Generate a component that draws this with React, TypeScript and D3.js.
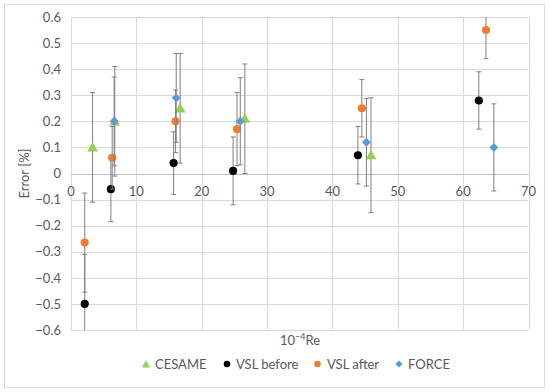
import { useMemo } from 'react';
import * as d3 from 'd3';

const X_TICKS = [0, 10, 20, 30, 40, 50, 60, 70];
const Y_TICKS = [-0.6, -0.5, -0.4, -0.3, -0.2, -0.1, 0, 0.1, 0.2, 0.3, 0.4, 0.5, 0.6];

const CESAME_X = [3.3, 6.7, 16.7, 26.6, 45.9];
const CESAME_Y = [0.1, 0.2, 0.25, 0.21, 0.07];
const CESAME_ERR = [0.21, 0.21, 0.21, 0.21, 0.22];

const VSL_BEFORE_X = [2.1, 6.1, 15.7, 24.8, 43.9, 62.4];
const VSL_BEFORE_Y = [-0.5, -0.06, 0.04, 0.01, 0.07, 0.28];
const VSL_BEFORE_ERR = [0.19, 0.125, 0.12, 0.13, 0.11, 0.11];

const VSL_AFTER_X = [2.1, 6.3, 16.0, 25.4, 44.5, 63.5];
const VSL_AFTER_Y = [-0.265, 0.06, 0.2, 0.17, 0.25, 0.55];
const VSL_AFTER_ERR = [0.19, 0.12, 0.12, 0.14, 0.11, 0.11];

const FORCE_X = [6.6, 16.1, 25.9, 45.2, 64.7];
const FORCE_Y = [0.2, 0.29, 0.2, 0.12, 0.1];
const FORCE_ERR = [0.17, 0.17, 0.167, 0.168, 0.167];

const SERIES = [
  { name: 'CESAME', color: '#92d050', shape: 'triangle', xs: CESAME_X, ys: CESAME_Y, err: CESAME_ERR },
  { name: 'VSL before', color: '#000000', shape: 'circle', xs: VSL_BEFORE_X, ys: VSL_BEFORE_Y, err: VSL_BEFORE_ERR },
  { name: 'VSL after', color: '#ed7d31', shape: 'circle', xs: VSL_AFTER_X, ys: VSL_AFTER_Y, err: VSL_AFTER_ERR },
  { name: 'FORCE', color: '#5b9bd5', shape: 'diamond', xs: FORCE_X, ys: FORCE_Y, err: FORCE_ERR },
];

const FONT = 'Lato, "Open Sans", sans-serif';
const TEXT = '#595959';
const GRID = '#d9d9d9';
const ERRBAR = '#7f7f7f';

// square rotated 45deg, like the spreadsheet's diamond marker
const squareDiamond = {
  draw(context, size) {
    const r = Math.sqrt(size / 2);
    context.moveTo(0, -r);
    context.lineTo(r, 0);
    context.lineTo(0, r);
    context.lineTo(-r, 0);
    context.closePath();
  },
};

const symbolFor = (shape: string, size: number) => {
  const type =
    shape === 'triangle' ? d3.symbolTriangle : shape === 'diamond' ? squareDiamond : d3.symbolCircle;
  return d3.symbol().type(type).size(size)() as string;
};

function Marker({ shape, color, x, y, big = true }) {
  const size = shape === 'circle' ? (big ? 52 : 34) : shape === 'triangle' ? (big ? 50 : 30) : big ? 40 : 26;
  const dy = shape === 'triangle' ? 1 : 0;
  return (
    <path d={symbolFor(shape, size)} transform={`translate(${x},${y + dy})`} fill={color} />
  );
}

export default function App() {
  const x = useMemo(() => d3.scaleLinear().domain([0, 70]).range([71, 528.5]), []);
  const y = useMemo(() => d3.scaleLinear().domain([-0.6, 0.6]).range([330, 17]), []);

  const clampY = (v: number) => Math.max(-0.6, Math.min(0.6, v));

  return (
    <svg
      width={550}
      height={392}
      style={{ position: 'absolute', left: 0, top: 0, background: '#fff' }}
      fontFamily={FONT}
    >
      <rect x={4.5} y={4.5} width={540} height={383} fill="#fff" stroke={GRID} strokeWidth={1} />

      {/* grid */}
      {Y_TICKS.map((t) => (
        <line key={`gy${t}`} x1={x(0)} x2={x(70)} y1={Math.round(y(t)) + 0.5} y2={Math.round(y(t)) + 0.5} stroke={GRID} />
      ))}
      {X_TICKS.map((t) => (
        <line key={`gx${t}`} y1={y(0.6)} y2={y(-0.6)} x1={Math.round(x(t)) + 0.5} x2={Math.round(x(t)) + 0.5} stroke={GRID} />
      ))}
      <line x1={x(0)} x2={x(70)} y1={Math.round(y(0)) + 0.5} y2={Math.round(y(0)) + 0.5} stroke="#bfbfbf" />

      {/* y tick labels */}
      {Y_TICKS.map((t) => (
        <text key={`ly${t}`} x={61} y={y(t)} dy="0.36em" textAnchor="end" fontSize={13} fill={TEXT}>
          {t === 0 ? '0' : t < 0 ? `\u2212${d3.format('.1f')(-t)}` : d3.format('.1f')(t)}
        </text>
      ))}
      {/* x tick labels */}
      {X_TICKS.map((t) => (
        <text key={`lx${t}`} x={x(t)} y={y(0) + 22} textAnchor="middle" fontSize={13} fill={TEXT}>
          {t}
        </text>
      ))}

      {/* series */}
      {SERIES.map((s) => (
        <g key={s.name}>
          {s.xs.map((xv, i) => {
            const top = s.ys[i] + s.err[i];
            const bot = s.ys[i] - s.err[i];
            const px = x(xv);
            return (
              <g key={i} stroke={ERRBAR} strokeWidth={1}>
                <line x1={px} x2={px} y1={y(clampY(top))} y2={y(clampY(bot))} />
                {top <= 0.6 && <line x1={px - 2.5} x2={px + 2.5} y1={y(top)} y2={y(top)} />}
                {bot >= -0.6 && <line x1={px - 2.5} x2={px + 2.5} y1={y(bot)} y2={y(bot)} />}
              </g>
            );
          })}
          {s.xs.map((xv, i) => (
            <Marker key={`m${i}`} shape={s.shape} color={s.color} x={x(xv)} y={y(s.ys[i])} />
          ))}
        </g>
      ))}

      {/* axis titles */}
      <text x={300} y={345} textAnchor="middle" fontSize={13} fill={TEXT}>
        10
        <tspan fontSize={9} dy={-5}>{'\u22124'}</tspan>
        <tspan dy={5}>Re</tspan>
      </text>
      <text transform={`translate(29,${(y(0.6) + y(-0.6)) / 2}) rotate(-90)`} textAnchor="middle" fontSize={13} fill={TEXT}>
        Error [%]
      </text>

      {/* legend */}
      {[
        { lx: 146, tx: 155 },
        { lx: 227, tx: 236 },
        { lx: 317.5, tx: 327 },
        { lx: 399, tx: 408 },
      ].map((p, i) => (
        <g key={`leg${i}`}>
          <Marker shape={SERIES[i].shape} color={SERIES[i].color} x={p.lx} y={364} big={false} />
          <text x={p.tx} y={364} dy="0.36em" fontSize={13} fill={TEXT}>
            {SERIES[i].name}
          </text>
        </g>
      ))}
    </svg>
  );
}
